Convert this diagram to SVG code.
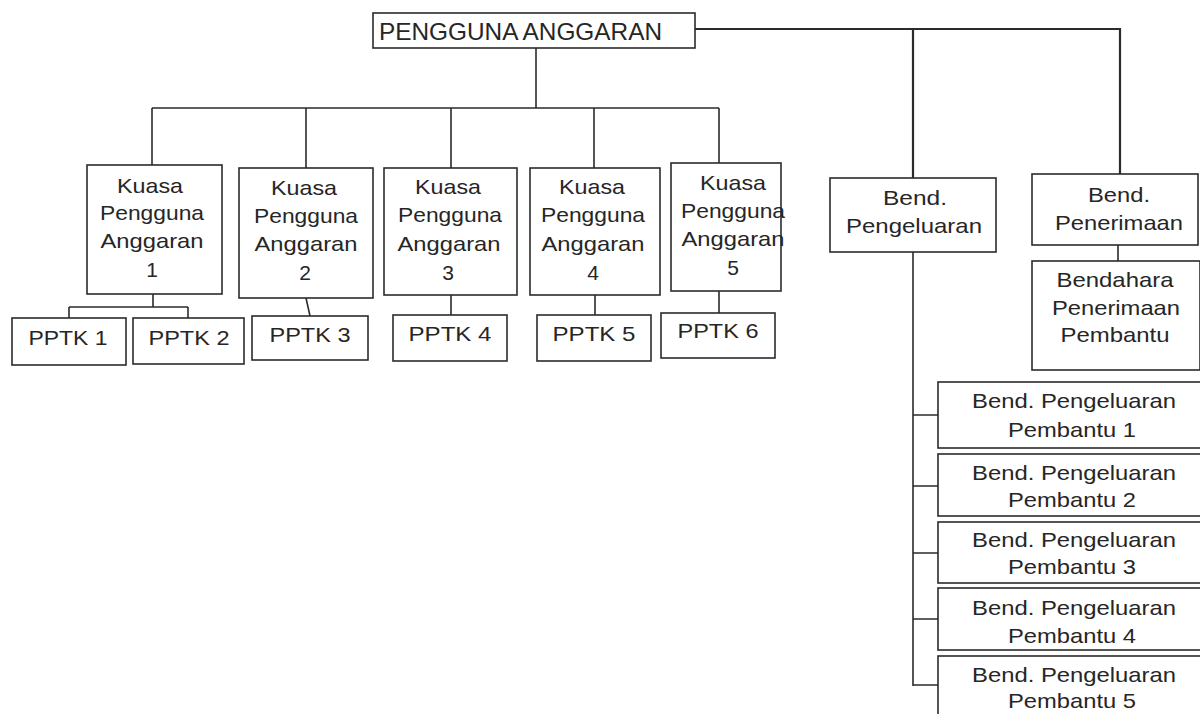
<svg xmlns="http://www.w3.org/2000/svg" width="1200" height="714" viewBox="0 0 1200 714">
<style>
.box{fill:#fff;stroke:#2b2b2b;stroke-width:1.6}
.ln{fill:none;stroke:#2b2b2b;stroke-width:1.6}
.t{font-family:"Liberation Sans",Arial,sans-serif;font-size:21px;fill:#262626;text-anchor:middle}
.tt{font-family:"Liberation Sans",Arial,sans-serif;font-size:24px;fill:#262626}
</style>
<rect width="1200" height="714" fill="#fff"/>
<g id="connectors">
<path class="ln" d="M536,48 V108 M152,108 H719 M152,108 V165 M306,108 V168 M451,108 V168 M594,108 V168 M719,108 V163"/>
<path class="ln" style="stroke-width:2.2" d="M695,29 H1120 V174 M913,29 V178"/>
<path class="ln" d="M153,294 V307 M69,307 H188 M69,307 V318 M188,307 V318 M306,298 L310,316 M451,295 V315 M595,295 V315 M719,291 V313 M1118,245 V261"/>
<path class="ln" d="M913,252 V686 M913,415 H938 M913,486 H938 M913,553 H938 M913,619 H938 M913,685 H938"/>
</g>
<g id="pa"><rect class="box" x="373" y="13" width="322" height="35"/><text class="tt" x="379" y="40" textLength="283" lengthAdjust="spacingAndGlyphs">PENGGUNA ANGGARAN</text></g>
<g id="kpa1"><rect class="box" x="87" y="165" width="135" height="129"/>
<text class="t" x="150" y="193" textLength="66" lengthAdjust="spacingAndGlyphs">Kuasa</text>
<text class="t" x="152" y="220" textLength="104" lengthAdjust="spacingAndGlyphs">Pengguna</text>
<text class="t" x="152" y="248" textLength="103" lengthAdjust="spacingAndGlyphs">Anggaran</text>
<text class="t" x="152" y="277">1</text></g>
<g id="kpa2"><rect class="box" x="239" y="168" width="134" height="130"/>
<text class="t" x="304" y="195" textLength="66" lengthAdjust="spacingAndGlyphs">Kuasa</text>
<text class="t" x="306" y="223" textLength="104" lengthAdjust="spacingAndGlyphs">Pengguna</text>
<text class="t" x="306" y="251" textLength="103" lengthAdjust="spacingAndGlyphs">Anggaran</text>
<text class="t" x="305" y="280">2</text></g>
<g id="kpa3"><rect class="box" x="384" y="168" width="133" height="127"/>
<text class="t" x="448" y="194" textLength="66" lengthAdjust="spacingAndGlyphs">Kuasa</text>
<text class="t" x="450" y="222" textLength="104" lengthAdjust="spacingAndGlyphs">Pengguna</text>
<text class="t" x="449" y="251" textLength="103" lengthAdjust="spacingAndGlyphs">Anggaran</text>
<text class="t" x="448" y="280">3</text></g>
<g id="kpa4"><rect class="box" x="530" y="168" width="130" height="127"/>
<text class="t" x="592" y="194" textLength="66" lengthAdjust="spacingAndGlyphs">Kuasa</text>
<text class="t" x="593" y="222" textLength="104" lengthAdjust="spacingAndGlyphs">Pengguna</text>
<text class="t" x="593" y="251" textLength="103" lengthAdjust="spacingAndGlyphs">Anggaran</text>
<text class="t" x="593" y="280">4</text></g>
<g id="kpa5"><rect class="box" x="671" y="163" width="110" height="128"/>
<text class="t" x="733" y="190" textLength="66" lengthAdjust="spacingAndGlyphs">Kuasa</text>
<text class="t" x="733" y="218" textLength="104" lengthAdjust="spacingAndGlyphs">Pengguna</text>
<text class="t" x="733" y="246" textLength="103" lengthAdjust="spacingAndGlyphs">Anggaran</text>
<text class="t" x="733" y="275">5</text></g>
<g id="pptk1"><rect class="box" x="12" y="318" width="114" height="47"/><text class="t" x="68" y="345" textLength="79" lengthAdjust="spacingAndGlyphs">PPTK 1</text></g>
<g id="pptk2"><rect class="box" x="133" y="318" width="111" height="46"/><text class="t" x="189" y="345" textLength="81" lengthAdjust="spacingAndGlyphs">PPTK 2</text></g>
<g id="pptk3"><rect class="box" x="252" y="316" width="116" height="44"/><text class="t" x="310" y="342" textLength="81" lengthAdjust="spacingAndGlyphs">PPTK 3</text></g>
<g id="pptk4"><rect class="box" x="393" y="315" width="114" height="46"/><text class="t" x="450" y="341" textLength="83" lengthAdjust="spacingAndGlyphs">PPTK 4</text></g>
<g id="pptk5"><rect class="box" x="537" y="315" width="114" height="46"/><text class="t" x="594" y="341" textLength="83" lengthAdjust="spacingAndGlyphs">PPTK 5</text></g>
<g id="pptk6"><rect class="box" x="661" y="313" width="114" height="45"/><text class="t" x="718" y="338" textLength="81" lengthAdjust="spacingAndGlyphs">PPTK 6</text></g>
<g id="bend-pengeluaran"><rect class="box" x="830" y="178" width="166" height="74"/>
<text class="t" x="915" y="205" textLength="64" lengthAdjust="spacingAndGlyphs">Bend.</text>
<text class="t" x="914" y="233" textLength="136" lengthAdjust="spacingAndGlyphs">Pengeluaran</text></g>
<g id="bend-penerimaan"><rect class="box" x="1032" y="174" width="166" height="71"/>
<text class="t" x="1119" y="202" textLength="62" lengthAdjust="spacingAndGlyphs">Bend.</text>
<text class="t" x="1119" y="230" textLength="128" lengthAdjust="spacingAndGlyphs">Penerimaan</text></g>
<g id="bpp"><rect class="box" x="1032" y="261" width="168" height="109"/>
<text class="t" x="1115" y="287" textLength="117" lengthAdjust="spacingAndGlyphs">Bendahara</text>
<text class="t" x="1116" y="315" textLength="128" lengthAdjust="spacingAndGlyphs">Penerimaan</text>
<text class="t" x="1115" y="342" textLength="109" lengthAdjust="spacingAndGlyphs">Pembantu</text></g>
<g id="bpe1"><rect class="box" x="938" y="382" width="264" height="66"/>
<text class="t" x="1074" y="408" textLength="204" lengthAdjust="spacingAndGlyphs">Bend. Pengeluaran</text>
<text class="t" x="1072" y="437" textLength="128" lengthAdjust="spacingAndGlyphs">Pembantu 1</text></g>
<g id="bpe2"><rect class="box" x="938" y="454" width="264" height="62"/>
<text class="t" x="1074" y="480" textLength="204" lengthAdjust="spacingAndGlyphs">Bend. Pengeluaran</text>
<text class="t" x="1072" y="507" textLength="128" lengthAdjust="spacingAndGlyphs">Pembantu 2</text></g>
<g id="bpe3"><rect class="box" x="938" y="522" width="264" height="61"/>
<text class="t" x="1074" y="547" textLength="204" lengthAdjust="spacingAndGlyphs">Bend. Pengeluaran</text>
<text class="t" x="1072" y="574" textLength="128" lengthAdjust="spacingAndGlyphs">Pembantu 3</text></g>
<g id="bpe4"><rect class="box" x="938" y="588" width="264" height="62"/>
<text class="t" x="1074" y="615" textLength="204" lengthAdjust="spacingAndGlyphs">Bend. Pengeluaran</text>
<text class="t" x="1072" y="643" textLength="128" lengthAdjust="spacingAndGlyphs">Pembantu 4</text></g>
<g id="bpe5"><rect class="box" x="938" y="656" width="264" height="70"/>
<text class="t" x="1074" y="682" textLength="204" lengthAdjust="spacingAndGlyphs">Bend. Pengeluaran</text>
<text class="t" x="1072" y="708" textLength="128" lengthAdjust="spacingAndGlyphs">Pembantu 5</text></g>
</svg>
